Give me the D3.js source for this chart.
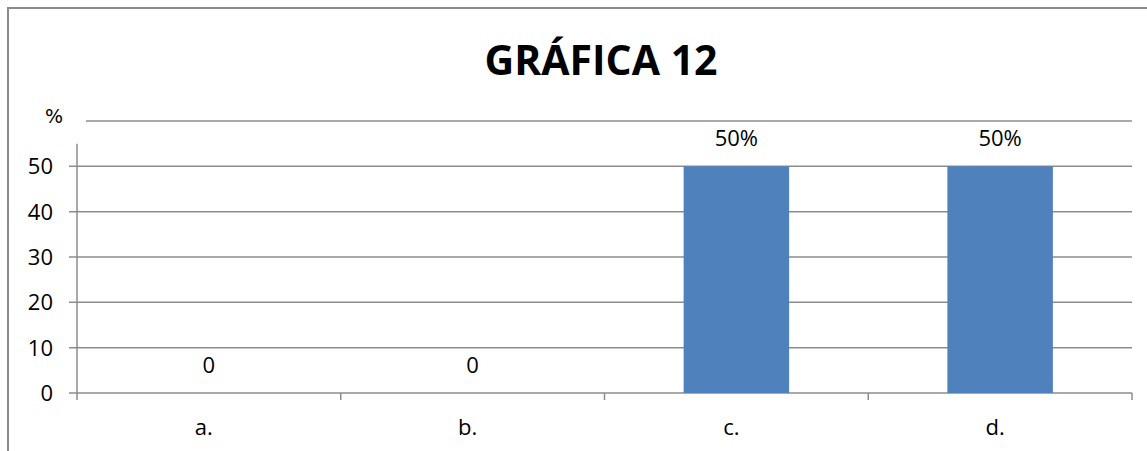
<!DOCTYPE html>
<html>
<head>
<meta charset="utf-8">
<script src="https://cdn.jsdelivr.net/npm/d3@7"></script>
<style>
  html, body { margin: 0; background: #fff; overflow: hidden; }
  svg { display: block; }
  svg text { font-family: "Open Sans", sans-serif; fill: #000; }
</style>
</head>
<body>
<svg id="chart" width="1147" height="451"></svg>
<script>
var categories = ["a.", "b.", "c.", "d."];
var values = [0, 0, 50, 50];
var valueLabels = ["0", "0", "50%", "50%"];
var yTicks = [0, 10, 20, 30, 40, 50];
var titleText = "GRÁFICA 12";

var svg = d3.select("#chart");
var gridColor = "#8c8c8c";

// outer frame: only top and left edges are inside the picture
svg.append("path")
    .attr("d", "M8,451V8H1147")
    .style("fill", "none").style("stroke", "#8a8a8a").style("stroke-width", 2);

var plotLeft = 77, plotRight = 1132, plotTop = 121, plotBottom = 393;

var x = d3.scaleBand().domain(categories).range([plotLeft, plotRight]).paddingInner(0.6).paddingOuter(0.3);
var band = d3.scaleBand().domain(categories).range([plotLeft, plotRight]);
var y = d3.scaleLinear().domain([0, 60]).range([plotBottom, plotTop]);

svg.append("text")
    .attr("x", 601).attr("y", 75)
    .attr("text-anchor", "middle")
    .style("font-size", "41px").style("font-weight", "bold")
    .text(titleText);

svg.append("text")
    .attr("x", 54).attr("y", 123)
    .attr("text-anchor", "middle")
    .style("font-size", "19px").style("font-family", "DejaVu Sans")
    .text("%");

// gridlines
svg.selectAll("line.grid").data(yTicks).enter().append("line")
    .attr("class", "grid")
    .attr("x1", plotLeft - 8).attr("x2", plotRight)
    .attr("y1", function (d) { return y(d); })
    .attr("y2", function (d) { return y(d); })
    .style("stroke", gridColor).style("stroke-width", 1.5);

// top line at 60
svg.append("line")
    .attr("x1", plotLeft + 9).attr("x2", plotRight)
    .attr("y1", y(60)).attr("y2", y(60))
    .style("stroke", gridColor).style("stroke-width", 1.5);

// y axis line
svg.append("line")
    .attr("x1", plotLeft).attr("x2", plotLeft)
    .attr("y1", y(55)).attr("y2", plotBottom + 7)
    .style("stroke", gridColor).style("stroke-width", 1.5);

// category ticks
var bounds = categories.slice(1).map(function (c) { return band(c); }).concat([plotRight]);
svg.selectAll("line.ctick").data(bounds).enter().append("line")
    .attr("class", "ctick")
    .attr("x1", function (d) { return d; }).attr("x2", function (d) { return d; })
    .attr("y1", plotBottom).attr("y2", plotBottom + 7)
    .style("stroke", gridColor).style("stroke-width", 1.5);

// y tick labels
svg.selectAll("text.ylab").data(yTicks).enter().append("text")
    .attr("class", "ylab")
    .attr("x", 53).attr("y", function (d) { return y(d) + 8; })
    .attr("text-anchor", "end")
    .style("font-size", "22px")
    .text(function (d) { return d; });

// bars
svg.selectAll("rect.bar").data(values).enter().append("rect")
    .attr("class", "bar")
    .attr("x", function (d, i) { return x(categories[i]); })
    .attr("width", x.bandwidth())
    .attr("y", function (d) { return y(d); })
    .attr("height", function (d) { return plotBottom - y(d); })
    .style("fill", "#4f81bd");

// value labels
svg.selectAll("text.vlab").data(values).enter().append("text")
    .attr("class", "vlab")
    .attr("x", function (d, i) { return band(categories[i]) + band.bandwidth() / 2; })
    .attr("y", function (d) { return y(d) - 20; })
    .attr("text-anchor", "middle")
    .style("font-size", "22px")
    .text(function (d, i) { return valueLabels[i]; });

// category labels
svg.selectAll("text.clab").data(categories).enter().append("text")
    .attr("class", "clab")
    .attr("x", function (d) { return band(d) + band.bandwidth() / 2 - 5; })
    .attr("y", 435)
    .attr("text-anchor", "middle")
    .style("font-size", "22px")
    .text(function (d) { return d; });
</script>
</body>
</html>
